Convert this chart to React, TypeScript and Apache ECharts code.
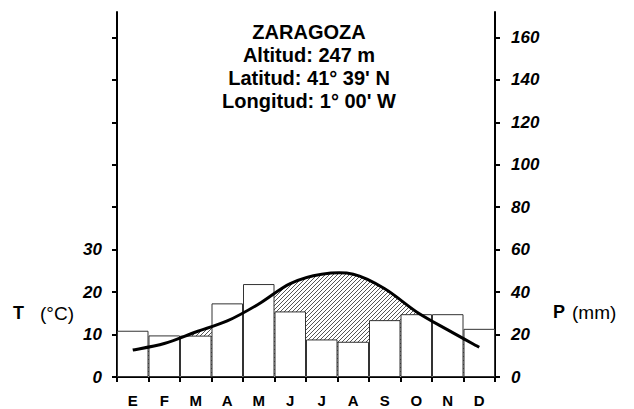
import React, { useEffect, useRef } from "react";
import * as echarts from "echarts";

const months = ["E", "F", "M", "A", "M", "J", "J", "A", "S", "O", "N", "D"];
const precipitation = [21.8, 19.6, 19.5, 34.7, 43.8, 30.9, 17.7, 16.6, 26.8, 29.6, 29.6, 22.7];
const temperature = [6.35, 7.9, 10.6, 13.2, 17.2, 22.0, 24.2, 24.2, 20.8, 15.4, 11.1, 7.0];
const tempLabels = [0, 10, 20, 30];
const tempTicks = [0, 10, 20, 30, 40, 50, 60, 70, 80];
const precTicks = [0, 20, 40, 60, 80, 100, 120, 140, 160];
const titleLines = ["ZARAGOZA", "Altitud: 247 m", "Latitud: 41° 39' N", "Longitud: 1° 00' W"];

const FONT = "'Liberation Sans', Arial, Helvetica, sans-serif";

function makeHatch() {
  const c = document.createElement("canvas");
  c.width = 4;
  c.height = 4;
  const ctx = c.getContext("2d")!;
  ctx.fillStyle = "#ffffff";
  ctx.fillRect(0, 0, 4, 4);
  ctx.strokeStyle = "#555555";
  ctx.lineWidth = 1;
  ctx.beginPath();
  ctx.moveTo(-1, 5);
  ctx.lineTo(5, -1);
  ctx.moveTo(-1, 1);
  ctx.lineTo(1, -1);
  ctx.moveTo(3, 5);
  ctx.lineTo(5, 3);
  ctx.stroke();
  return c;
}

// Catmull-Rom style smooth path through screen points (from api.coord)
function smoothPath(pts: number[][]): string {
  const n = pts.length;
  let d = `M ${pts[0][0]} ${pts[0][1]}`;
  for (let i = 0; i < n - 1; i++) {
    const p0 = pts[Math.max(0, i - 1)];
    const p1 = pts[i];
    const p2 = pts[i + 1];
    const p3 = pts[Math.min(n - 1, i + 2)];
    const c1x = p1[0] + (p2[0] - p0[0]) / 6;
    const c1y = p1[1] + (p2[1] - p0[1]) / 6;
    const c2x = p2[0] - (p3[0] - p1[0]) / 6;
    const c2y = p2[1] - (p3[1] - p1[1]) / 6;
    d += ` C ${c1x} ${c1y} ${c2x} ${c2y} ${p2[0]} ${p2[1]}`;
  }
  return d;
}

export default function App() {
  const ref = useRef<HTMLDivElement>(null);
  useEffect(() => {
    if (!ref.current) return;
    const chart = echarts.init(ref.current, null, { renderer: "svg" });
    const hatch = makeHatch();
    const pattern = { image: hatch, repeat: "repeat", imageWidth: 4, imageHeight: 4 };
    const option: any = {
      animation: false,
      backgroundColor: "#ffffff",
      textStyle: { fontFamily: FONT },
      grid: { left: 117, right: 139, top: 12, bottom: 32 },
      xAxis: {
        type: "category",
        data: months,
        boundaryGap: true,
        axisLine: { lineStyle: { color: "#000", width: 2 } },
        axisTick: { show: true, length: 5, lineStyle: { color: "#000", width: 2 } },
        axisLabel: { color: "#000", fontWeight: "bold", fontSize: 15, margin: 16, fontFamily: FONT, interval: 0 },
        splitLine: { show: false },
      },
      yAxis: [
        {
          type: "value",
          min: 0,
          max: 86,
          interval: 10,
          position: "left",
          axisLine: { show: true, lineStyle: { color: "#000", width: 2 } },
          axisTick: { show: true, length: 5, customValues: tempTicks, lineStyle: { color: "#000", width: 2 } },
          axisLabel: {
            customValues: tempLabels,
            color: "#000",
            fontWeight: "bold",
            fontStyle: "italic",
            fontSize: 17,
            margin: 15,
            fontFamily: FONT,
            formatter: (v: number) => (tempLabels.indexOf(v) >= 0 ? String(v) : ""),
          },
          splitLine: { show: false },
        },
        {
          type: "value",
          min: 0,
          max: 172,
          interval: 20,
          position: "right",
          axisLine: { show: true, lineStyle: { color: "#000", width: 2 } },
          axisTick: { show: true, length: 5, customValues: precTicks, lineStyle: { color: "#000", width: 2 } },
          axisLabel: {
            customValues: precTicks,
            color: "#000",
            fontWeight: "bold",
            fontStyle: "italic",
            fontSize: 17,
            margin: 16,
            fontFamily: FONT,
            formatter: (v: number) => (precTicks.indexOf(v) >= 0 ? String(v) : ""),
          },
          splitLine: { show: false },
        },
      ],
      series: [
        {
          name: "hatch",
          type: "custom",
          xAxisIndex: 0,
          yAxisIndex: 0,
          data: [[0, 0]],
          z: 1,
          silent: true,
          renderItem: (_params: any, api: any) => {
            const pts = temperature.map((t, i) => api.coord([i, t]));
            const base = api.coord([0, 0])[1];
            const d =
              smoothPath(pts) +
              ` L ${pts[pts.length - 1][0]} ${base} L ${pts[0][0]} ${base} Z`;
            return {
              type: "path",
              shape: { pathData: d },
              style: { fill: pattern, stroke: null },
            };
          },
        },
        {
          name: "P",
          type: "bar",
          yAxisIndex: 1,
          data: precipitation,
          barWidth: "100%",
          barCategoryGap: "0%",
          z: 2,
          itemStyle: { color: "#ffffff", borderColor: "#333333", borderWidth: 1 },
        },
        {
          name: "T",
          type: "custom",
          xAxisIndex: 0,
          yAxisIndex: 0,
          data: [[0, 0]],
          z: 3,
          silent: true,
          renderItem: (_params: any, api: any) => {
            const pts = temperature.map((t, i) => api.coord([i, t]));
            return {
              type: "path",
              shape: { pathData: smoothPath(pts) },
              style: { fill: null, stroke: "#000", lineWidth: 3 },
            };
          },
        },
      ],
      graphic: [
        ...titleLines.map((t, i) => ({
          type: "text",
          x: 309,
          y: 32 + i * 23,
          style: {
            text: t,
            fill: "#000",
            font: `bold 20px ${FONT}`,
            textAlign: "center",
            textVerticalAlign: "middle",
          },
        })),
        {
          type: "text",
          x: 13,
          y: 313,
          style: { text: "T", fill: "#000", font: `bold 18px ${FONT}`, textAlign: "left", textVerticalAlign: "middle" },
        },
        {
          type: "text",
          x: 40,
          y: 313,
          style: { text: "(°C)", fill: "#000", font: `19px ${FONT}`, textAlign: "left", textVerticalAlign: "middle" },
        },
        {
          type: "text",
          x: 553,
          y: 312,
          style: { text: "P", fill: "#000", font: `bold 18px ${FONT}`, textAlign: "left", textVerticalAlign: "middle" },
        },
        {
          type: "text",
          x: 572,
          y: 312,
          style: { text: "(mm)", fill: "#000", font: `19px ${FONT}`, textAlign: "left", textVerticalAlign: "middle" },
        },
      ],
    };
    chart.setOption(option);
    return () => chart.dispose();
  }, []);
  return (
    <div
      ref={ref}
      style={{ position: "fixed", left: 0, top: 0, width: 634, height: 409 }}
    />
  );
}
